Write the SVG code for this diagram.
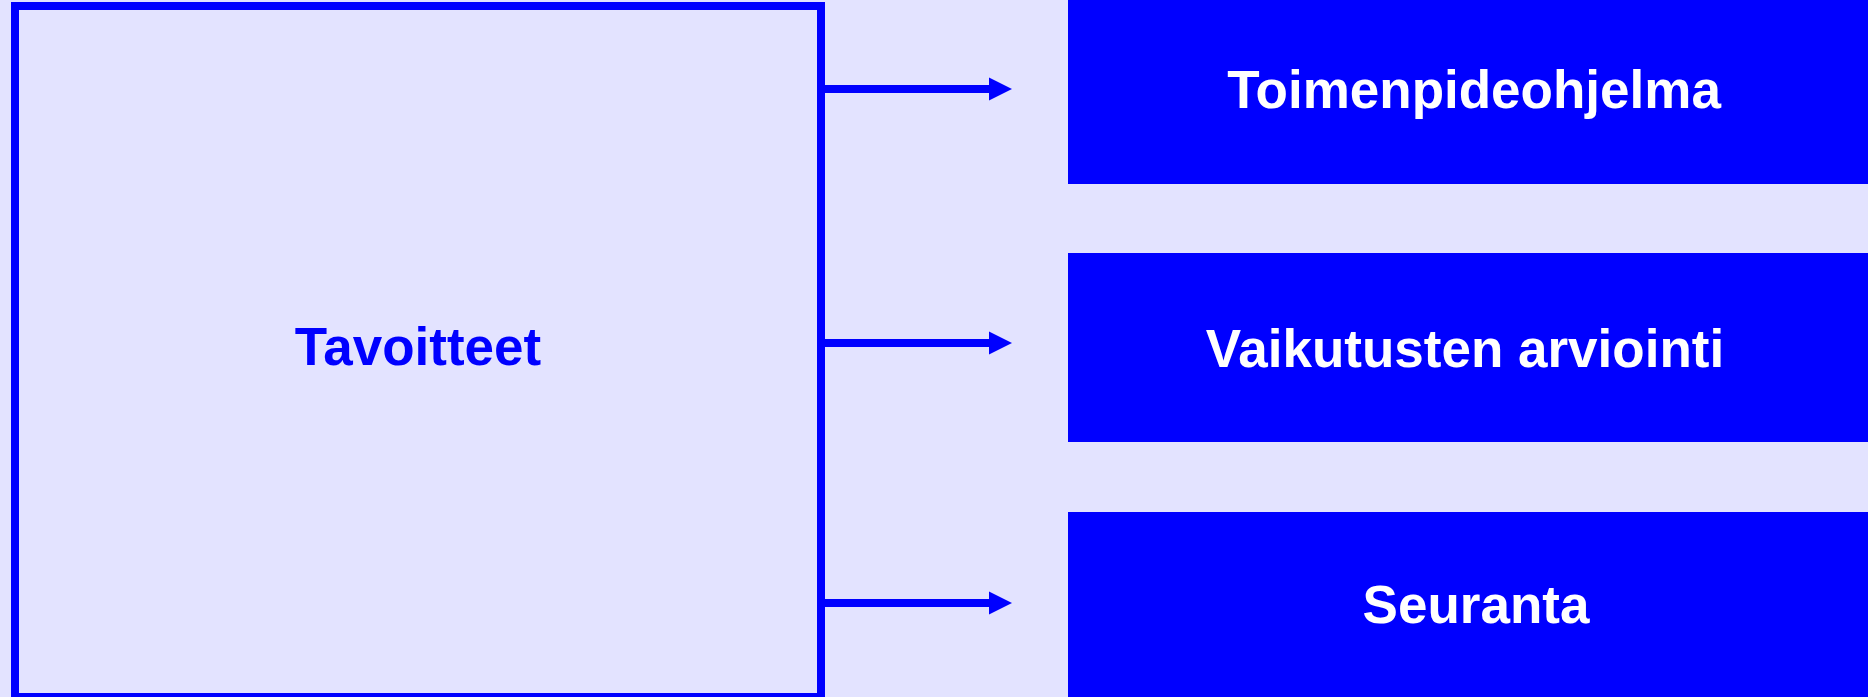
<svg xmlns="http://www.w3.org/2000/svg" width="1868" height="697" viewBox="0 0 1868 697">
  <defs>
    <style>
      .bg { fill: #E3E3FF; }
      .main { fill: #E3E3FF; stroke: #0000FF; stroke-width: 8; }
      .box { fill: #0000FF; }
      .conn { stroke: #0000FF; stroke-width: 8; fill: none; }
      .head { fill: #0000FF; }
      .lbl { font-family: "Liberation Sans", Arial, sans-serif; font-weight: bold; font-size: 53px; text-anchor: middle; }
      .lbl-main { fill: #0000FF; }
      .lbl-box { fill: #FFFFFF; }
    </style>
  </defs>
  <rect class="bg" x="0" y="0" width="1868" height="697"/>

  <g id="node-tavoitteet">
    <rect class="main" x="15" y="6" width="806" height="691"/>
    <text class="lbl lbl-main" x="418" y="365">Tavoitteet</text>
  </g>

  <g id="node-toimenpideohjelma">
    <rect class="box" x="1068" y="0" width="800" height="184"/>
    <text class="lbl lbl-box" x="1474" y="108">Toimenpideohjelma</text>
  </g>

  <g id="node-vaikutusten-arviointi">
    <rect class="box" x="1068" y="253" width="800" height="189"/>
    <text class="lbl lbl-box" x="1465" y="367">Vaikutusten arviointi</text>
  </g>

  <g id="node-seuranta">
    <rect class="box" x="1068" y="512" width="800" height="185"/>
    <text class="lbl lbl-box" x="1476" y="623">Seuranta</text>
  </g>

  <g id="connectors">
    <line class="conn" x1="825" y1="89" x2="992" y2="89"/>
    <polygon class="head" points="989,77.5 1012,89 989,100.5"/>
    <line class="conn" x1="825" y1="343" x2="992" y2="343"/>
    <polygon class="head" points="989,331.5 1012,343 989,354.5"/>
    <line class="conn" x1="825" y1="603" x2="992" y2="603"/>
    <polygon class="head" points="989,591.5 1012,603 989,614.5"/>
  </g>
</svg>
